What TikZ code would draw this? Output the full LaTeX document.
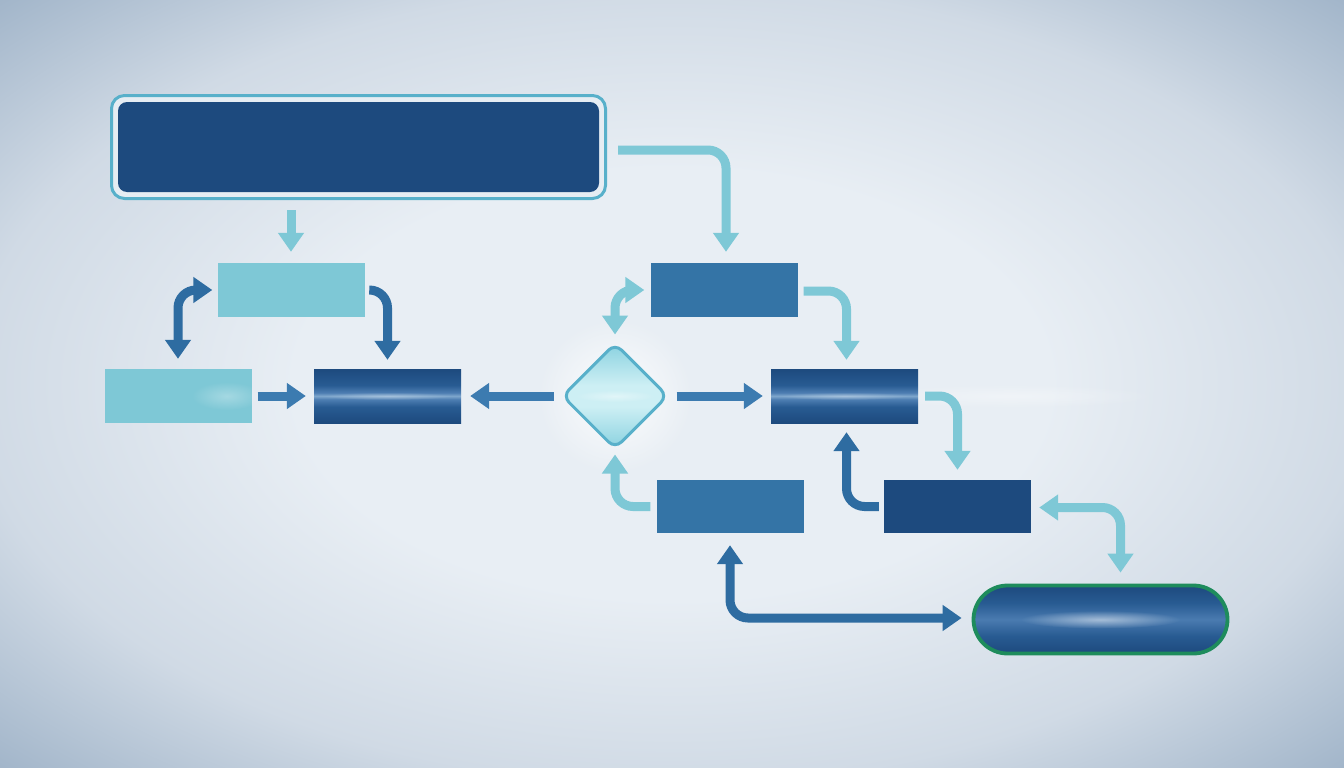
\documentclass[tikz,border=0pt]{standalone}
\usetikzlibrary{arrows.meta,shapes.geometric,fadings,calc}
\tikzfading[name=glowfade, inner color=transparent!0, outer color=transparent!100]
\definecolor{dk}{HTML}{1D4A7E}
\definecolor{dk2}{HTML}{285B92}
\definecolor{md}{HTML}{3474A6}
\definecolor{lt}{HTML}{7EC8D6}
\definecolor{ltb}{HTML}{58B0CA}
\definecolor{arrA}{HTML}{3C7BB0}
\definecolor{arrB}{HTML}{2E6CA1}
\definecolor{hl}{HTML}{7FA7CD}
\definecolor{hls}{HTML}{4E7EB2}
\definecolor{pl}{HTML}{4A7BB0}
\definecolor{gap}{HTML}{E6EDF3}
\definecolor{grn}{HTML}{1E8C5C}
\definecolor{dia1}{HTML}{8AD2E0}
\definecolor{dia2}{HTML}{CDEFF4}
\definecolor{bgA}{HTML}{E8EEF4}
\definecolor{bgB}{HTML}{D0DAE5}
\definecolor{bgC}{HTML}{9FB3C8}
\pgfdeclareradialshading{bgsh}{\pgfpoint{0bp}{0bp}}{color(0bp)=(bgA); color(14bp)=(bgA); color(26bp)=(bgB); color(36bp)=(bgC); color(50bp)=(bgC)}
\pgfdeclareverticalshading{cyl}{100bp}{color(0bp)=(dk); color(25bp)=(dk); color(40bp)=(dk2); color(47bp)=(hls); color(50bp)=(hl); color(53bp)=(hls); color(60bp)=(dk2); color(75bp)=(dk); color(100bp)=(dk)}
\pgfdeclareverticalshading{pill}{100bp}{color(0bp)=(dk); color(25bp)=(dk); color(38bp)=(dk2); color(50bp)=(pl); color(62bp)=(dk2); color(75bp)=(dk); color(100bp)=(dk)}
\pgfdeclareverticalshading{diash}{100bp}{color(0bp)=(dia1); color(25bp)=(dia1); color(45bp)=(dia2); color(50bp)=(dia2); color(55bp)=(dia2); color(75bp)=(dia1); color(100bp)=(dia1)}
\tikzset{
  boxn/.style={rectangle, inner sep=0pt, minimum width=147pt, minimum height=54pt, draw=none},
  cylbox/.style={boxn, shade, shading=cyl},
  conn/.style={line width=9pt, rounded corners=18pt, -{Triangle[width=25pt,length=19pt]}},
  dconn/.style={conn, {Triangle[width=25pt,length=19pt]}-{Triangle[width=25pt,length=19pt]}},
  glow/.style={white, path fading=glowfade}
}
\begin{document}
\begin{tikzpicture}[x=1pt,y=-1pt]
% background
\shade[shading=bgsh] (0,0) rectangle (1344,768);
\useasboundingbox (0,0) rectangle (1344,768);
% glows
\fill[glow, opacity=0.35] (1010,396) ellipse [x radius=150, y radius=12];
\fill[glow, opacity=0.9] (615,396) circle (78);

% top box
\node[rectangle, rounded corners=13pt, draw=ltb, line width=3pt, fill=gap, minimum width=494pt, minimum height=103pt] (topo) at (358.5,147) {};
\node[rectangle, rounded corners=9pt, fill=dk, minimum width=481pt, minimum height=90pt] (topi) at (358.5,147) {};

% boxes
\node[boxn, fill=lt] (A) at (291,290) {};
\node[boxn, fill=lt] (B) at (178,396) {};
\node[cylbox] (C) at (387.5,396) {};
\node[boxn, fill=md] (D) at (724,290) {};
\node[cylbox] (E) at (844.5,396) {};
\node[boxn, fill=dk, minimum height=53pt] (F) at (957.5,506.5) {};
\node[boxn, fill=md, minimum height=53pt] (G) at (730,506.5) {};
\node[diamond, rounded corners=9pt, draw=ltb, line width=3pt, shade, shading=diash, minimum width=106pt, minimum height=106pt, inner sep=0pt] (dia) at (615,396) {};
\node[rectangle, rounded corners=34pt, draw=grn, line width=3.8pt, shade, shading=pill, minimum width=254pt, minimum height=68pt, inner sep=0pt] (term) at (1100.5,619.5) {};

% highlights
\fill[glow, opacity=0.3] (B.east) ++(-25,0) ellipse [x radius=35, y radius=14];
\fill[glow, opacity=0.3] (C.center) ellipse [x radius=65, y radius=4];
\fill[glow, opacity=0.3] (E.center) ellipse [x radius=65, y radius=4];
\fill[glow, opacity=0.5] (term.center) ellipse [x radius=80, y radius=9];
\fill[glow, opacity=0.4] (dia.center) ellipse [x radius=40, y radius=6];

% connectors
\draw[conn, lt] ([xshift=11pt,yshift=-3pt]topo.east) -| ([xshift=2pt,yshift=11pt]D.north);
\draw[conn, lt] ([yshift=-10pt]A.north |- topo.south) -- ([yshift=11pt]A.north);
\draw[dconn, arrB] ([xshift=-5pt]A.west) -| ([yshift=10pt]B.north);
\draw[conn, arrB] ([xshift=5pt]A.east) -| ([yshift=9pt]C.north);
\draw[conn, arrA] ([xshift=6pt]B.east) -- ([xshift=-8pt]C.west);
\draw[conn, arrA] ([xshift=-7pt]dia.west) -- ([xshift=9pt]C.east);
\draw[dconn, lt] ([xshift=-6pt]D.west) -| ([yshift=7pt]dia.north);
\draw[conn, lt] ([xshift=6pt,yshift=-1pt]D.east) -| ([xshift=2pt,yshift=9pt]E.north);
\draw[conn, arrA] ([xshift=7pt]dia.east) -- ([xshift=-8pt]E.west);
\draw[conn, lt] ([xshift=7pt]E.east) -| ([yshift=10pt]F.north);
\draw[conn, arrB] ([xshift=-5pt]F.west) -| ([xshift=2pt,yshift=-9pt]E.south);
\draw[conn, lt] ([xshift=-6pt]G.west) -| ([yshift=-4pt]dia.south);
\draw[dconn, lt] ([xshift=8pt,yshift=-1pt]F.east) -| ([xshift=20pt,yshift=11pt]term.north);
\draw[dconn, arrB] ([yshift=-12pt]G.south) |- ([xshift=-10pt,yshift=1.5pt]term.west);
\end{tikzpicture}
\end{document}
